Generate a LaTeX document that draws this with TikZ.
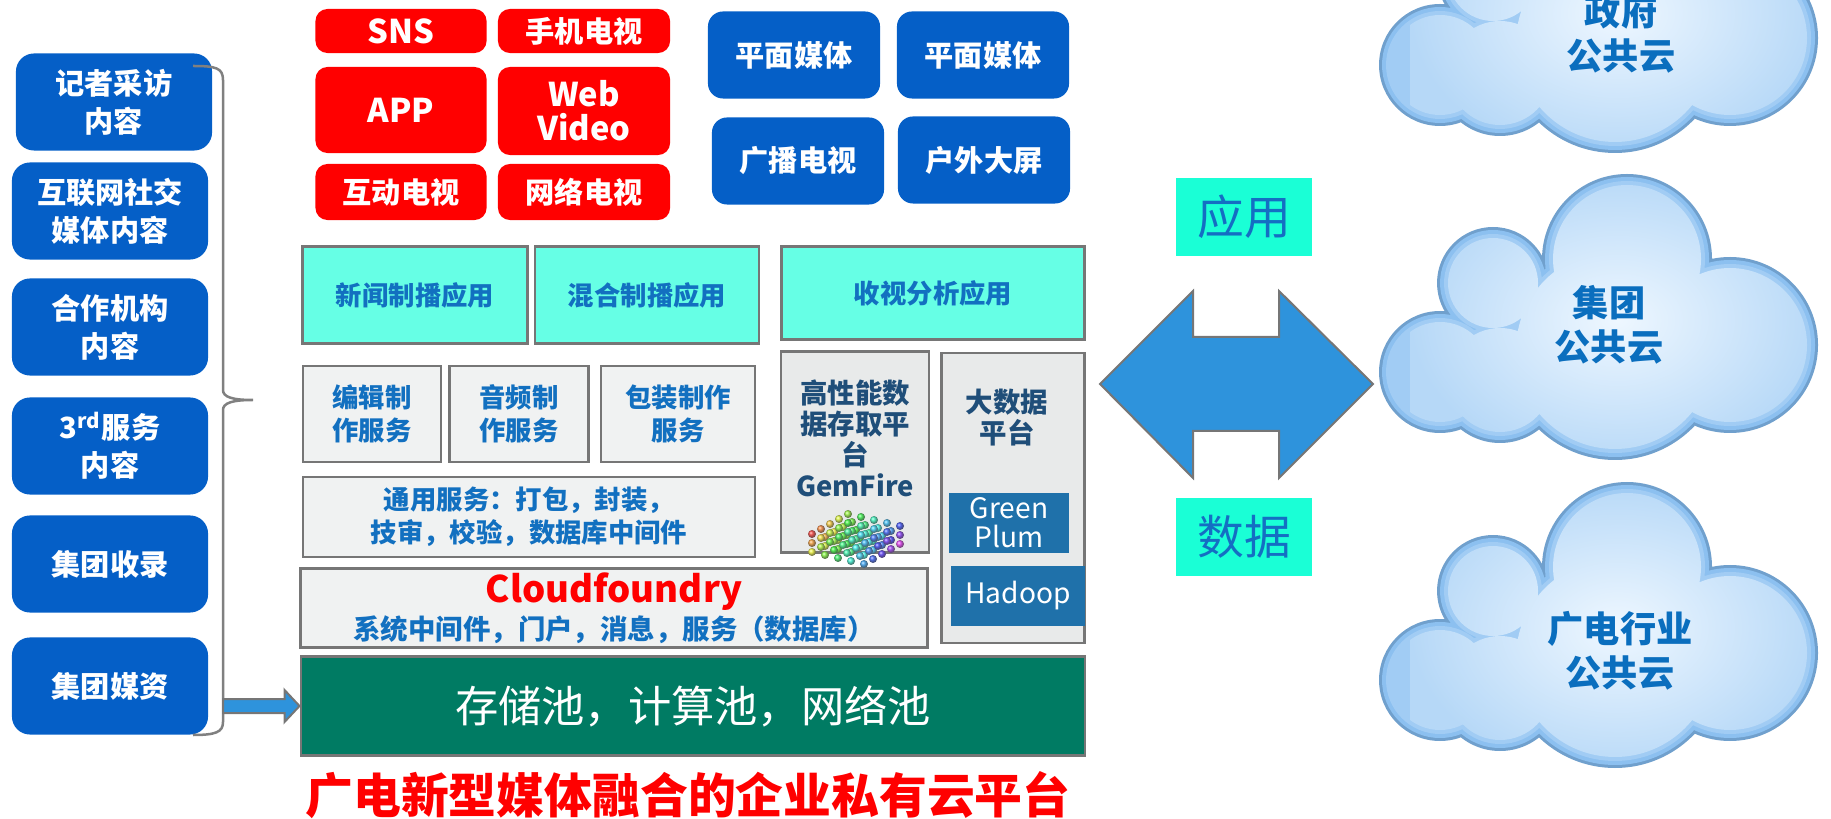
\documentclass[tikz,border=0pt]{standalone}
\usepackage{fontspec}
\setmainfont{Noto Sans CJK SC}
\usepackage{tikz}
\usetikzlibrary{arrows.meta,positioning,calc}

\definecolor{srcblue}{RGB}{5,95,199}
\definecolor{termred}{RGB}{255,0,0}
\definecolor{appcyan}{RGB}{102,255,229}
\definecolor{framegray}{RGB}{118,118,118}
\definecolor{svcgray}{RGB}{240,242,242}
\definecolor{panelgray}{RGB}{232,234,234}
\definecolor{txtblue}{RGB}{18,112,192}
\definecolor{navytext}{RGB}{31,78,121}
\definecolor{dbblue}{RGB}{31,113,170}
\definecolor{poolgreen}{RGB}{0,123,99}
\definecolor{tagcyan}{RGB}{26,255,214}
\definecolor{tagblue}{RGB}{20,110,195}
\definecolor{linkblue}{RGB}{46,147,220}
\definecolor{bracegray}{RGB}{128,128,128}
\definecolor{cloudedge}{RGB}{112,160,205}
\definecolor{cloudrim}{RGB}{140,192,240}
\definecolor{cloudmid}{RGB}{182,216,247}
\definecolor{cloudlight}{RGB}{238,247,255}
\definecolor{cloudblue}{RGB}{10,110,190}

\tikzset{
  src/.style={fill=srcblue,rounded corners=0.18cm,minimum width=1.96cm,minimum height=0.97cm,text=white,align=center,inner sep=0pt,font=\bfseries\fontsize{8.3}{10.8}\selectfont},
  term/.style={fill=termred,rounded corners=0.12cm,minimum width=1.71cm,text=white,align=center,inner sep=0pt,font=\bfseries\fontsize{8.3}{10}\selectfont},
  termlatin/.style={term,font=\bfseries\fontsize{9.3}{9.6}\selectfont},
  media/.style={fill=srcblue,rounded corners=0.15cm,minimum width=1.72cm,minimum height=0.87cm,text=white,align=center,inner sep=0pt,font=\bfseries\fontsize{8.3}{10}\selectfont},
  layer/.style={draw=framegray,line width=0.025cm,align=center,inner sep=0pt,font=\bfseries\fontsize{7.5}{9.4}\selectfont},
  app/.style={layer,fill=appcyan,text=txtblue},
  svc/.style={layer,fill=svcgray,text=txtblue},
  panel/.style={layer,fill=panelgray},
  paneltext/.style={text=navytext,align=center,inner sep=0pt,font=\bfseries\fontsize{7.8}{8.8}\selectfont},
  store/.style={fill=dbblue,text=white,align=center,inner sep=0pt,font=\fontsize{8}{8.2}\selectfont},
  tag/.style={fill=tagcyan,text=tagblue,minimum width=1.36cm,minimum height=0.78cm,inner sep=0pt,font=\fontsize{13.3}{14}\selectfont},
  cloudlabel/.style={text=cloudblue,align=center,inner sep=0pt,font=\bfseries\fontsize{10.3}{12.5}\selectfont},
  arrowline/.style={draw=framegray,line width=0.02cm},
  % a puffy cloud built from overlapping circles
  pics/pubcloud/.style={code={
    \fill[cloudedge] foreach \a/\b/\r in {17/-71/82,-117/-47/53,-170/42/58,120/15/85,5/20/107,-110/50/60} {(\a,\b) circle [radius=\r+3]};
    \fill[cloudrim] foreach \a/\b/\r in {17/-71/82,-117/-47/53,-170/42/58,120/15/85,5/20/107,-110/50/60} {(\a,\b) circle [radius=\r]};
    \fill[cloudrim!50!cloudmid] foreach \a/\b/\r in {17/-71/82,-117/-47/53,-170/42/58,120/15/85,5/20/107,-110/50/60} {(\a,\b) circle [radius=\r-4]};
    \begin{scope}
      \clip foreach \a/\b/\r in {17/-71/82,-117/-47/53,-170/42/58,120/15/85,5/20/107,-110/50/60} {(\a,\b) circle [radius=\r-8]};
      \shade[inner color=cloudlight,outer color=cloudmid] (-200,-160) rectangle (215,140);
    \end{scope}
  }},
}

\begin{document}
\begin{tikzpicture}[x=0.01cm,y=-0.01cm]
\useasboundingbox (0,0) rectangle (1831,819);

% content sources
\node[src] (s1) at (114,102) {记者采访\\内容};
\node[src] (s2) at (110,211) {互联网社交\\媒体内容};
\node[src] (s3) at (110,327) {合作机构\\内容};
\node[src] (s4) at (110,446) {3\textsuperscript{rd}服务\\内容};
\node[src] (s5) at (110,564) {集团收录};
\node[src] (s6) at (110,686) {集团媒资};

% brace gathering the sources
\draw[bracegray,line width=0.025cm] (193,66) .. controls (216,66) and (223,68) .. (223,80) -- (223,390) .. controls (223,397) and (232,400) .. (253,400) .. controls (232,400) and (223,403) .. (223,410) -- (223,722) .. controls (223,732) and (216,735) .. (193,735);
\coordinate (feed) at (223,702);

% terminals
\node[termlatin,minimum height=0.44cm] (tsns) at (401,31) {SNS};
\node[term,minimum width=1.72cm,minimum height=0.44cm] (tmob) at (584,31) {手机电视};
\node[termlatin,minimum height=0.86cm] (tapp) at (401,110) {APP};
\node[termlatin,minimum width=1.72cm,minimum height=0.88cm] (tweb) at (584,111) {Web\\Video};
\node[term,minimum height=0.56cm] (titv) at (401,192) {互动电视};
\node[term,minimum width=1.72cm,minimum height=0.56cm] (tiptv) at (584,192) {网络电视};

\node[media] (m1) at (794,55) {平面媒体};
\node[media] (m2) at (983,55) {平面媒体};
\node[media] (m3) at (798,161) {广播电视};
\node[media] (m4) at (984,160) {户外大屏};

% application layer
\node[app,minimum width=2.25cm,minimum height=0.97cm] (news) at (415,295) {新闻制播应用};
\node[app,minimum width=2.24cm,minimum height=0.97cm] (mix) at (647,295) {混合制播应用};
\node[app,minimum width=3.03cm,minimum height=0.93cm] (rating) at (933,293) {收视分析应用};

% services
\node[svc,minimum width=1.38cm,minimum height=0.96cm] (edit) at (372,414) {编辑制\\作服务};
\node[svc,minimum width=1.39cm,minimum height=0.96cm] (audio) at (519,414) {音频制\\作服务};
\node[svc,minimum width=1.54cm,minimum height=0.96cm] (pack) at (678,414) {包装制作\\服务};
\node[svc,minimum width=4.52cm,minimum height=0.80cm] (common) at (529,517) {通用服务：打包，封装，\\技审，校验，数据库中间件};
\node[svc,minimum width=6.27cm,minimum height=0.79cm,font=\bfseries\fontsize{7.8}{10.5}\selectfont] (cf) at (614,608) {\textcolor{termred}{\fontsize{10.4}{10.5}\selectfont Cloudfoundry}\\系统中间件，门户，消息，服务（数据库）};

% data platforms
\node[panel,minimum width=1.48cm,minimum height=2.01cm] (gem) at (855,452) {};
\node[paneltext] (gemtext) at (855,438) {高性能数\\据存取平\\台\\GemFire};
\foreach \k in {0,1,2}
  \foreach \j in {4,3,2,1,0}
    \foreach \i in {0,...,4} {
      \pgfmathtruncatemacro\hue{mod(450+36*\i-22*\j+30*\k,360)}
      \definecolor{atom}{Hsb}{\hue,0.85,0.95}
      \shade[ball color=atom] (848+13*\i-9*\j,514+3*\i+5*\j+9*\k) circle [radius=4];
    }
\node[panel,minimum width=1.43cm,minimum height=2.90cm] (bigdata) at (1013,498) {};
\node[paneltext] (bigtext) at (1007,418) {大数据\\平台};
\node[store,minimum width=1.19cm,minimum height=0.60cm] (gp) at (1009,523) {Green\\Plum};
\node[store,minimum width=1.34cm,minimum height=0.60cm] (hd) at (1018,596) {Hadoop};

% resource pools
\node[layer,fill=poolgreen,text=white,minimum width=7.84cm,minimum height=0.99cm,font=\fontsize{12.3}{14}\selectfont] (pool) at (693,706) {存储池，计算池，网络池};
\draw[arrowline,fill=linkblue] ($(feed|-pool.west)+(0,-7)$) -- ($(pool.west)+(-15,-7)$) -- ($(pool.west)+(-15,-16)$) -- (pool.west) -- ($(pool.west)+(-15,16)$) -- ($(pool.west)+(-15,7)$) -- ($(feed|-pool.west)+(0,7)$) -- cycle;

\node[text=termred,inner sep=0pt,font=\bfseries\fontsize{13.6}{16}\selectfont] (title) at (688,795) {广电新型媒体融合的企业私有云平台};

% exchange with public clouds
\node[tag] (tagapp) at (1244,217) {应用};
\node[tag] (tagdata) at (1244,537) {数据};
\draw[arrowline,fill=linkblue] (1100,384) -- (1193,291) -- (1193,337) -- (1279,337) -- (1279,291) -- (1373,384) -- (1279,478) -- (1279,431) -- (1193,431) -- (1193,478) -- cycle;

\pic at (1610,23) {pubcloud};
\pic at (1610,330) {pubcloud};
\pic at (1610,638) {pubcloud};
\node[cloudlabel] (gov) at (1621,34) {政府\\公共云};
\node[cloudlabel] (group) at (1609,325) {集团\\公共云};
\node[cloudlabel] (sector) at (1620,651) {广电行业\\公共云};
\end{tikzpicture}
\end{document}
